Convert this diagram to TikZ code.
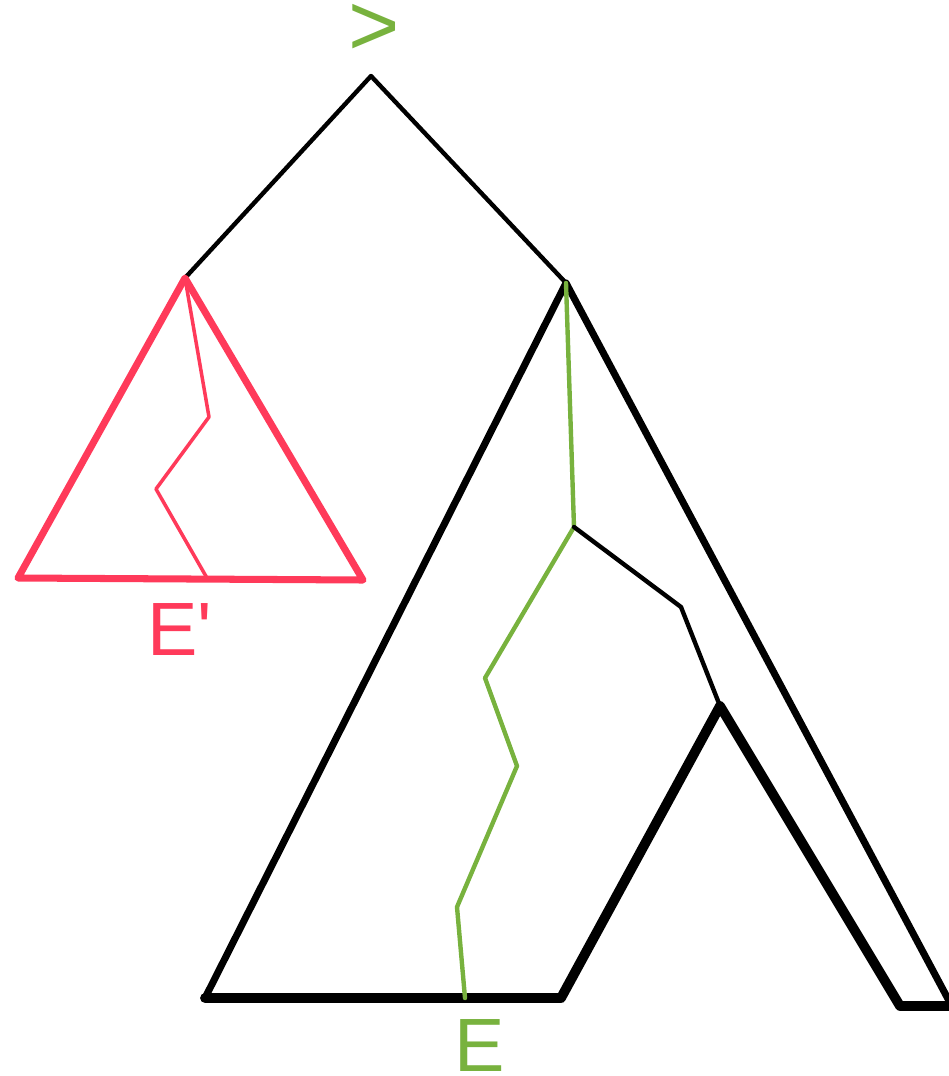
\documentclass[tikz,border=0pt]{standalone}
\usepackage{fontspec}
\setmainfont{Liberation Sans}
\usetikzlibrary{positioning}
\definecolor{treered}{HTML}{FF3A5A}
\definecolor{treegreen}{HTML}{78B23E}

\begin{document}
\begin{tikzpicture}[
  x=0.02cm, y=-0.02cm,
  line join=round, line cap=round,
  lbl/.style={font=\fontsize{43}{43}\selectfont, inner sep=0pt},
  edge/.style={draw=black, line width=2.5pt},
  side/.style={draw=black, line width=4pt},
  heavy/.style={draw=black, line width=5.6pt},
  sub/.style={draw=treered, line width=4pt},
  subpath/.style={draw=treered, line width=2pt},
  route/.style={draw=treegreen, line width=2.5pt}
]
  \useasboundingbox (0,0) rectangle (949,1076);
  \clip (0,0) rectangle (949,1076);

  % tree vertices
  \coordinate (root) at (371,76);
  \coordinate (lc) at (185,278);
  \coordinate (rc) at (566,283);

  % red subtree
  \coordinate (sl) at (18,578);
  \coordinate (sr) at (363,580);
  \coordinate (s1) at (209,417);
  \coordinate (s2) at (156,489);
  \coordinate (s3) at (207,578);

  % big subtree
  \coordinate (bl) at (205,998);
  \coordinate (bm) at (561,998);
  \coordinate (pk) at (720,706);
  \coordinate (br) at (900,1006);
  \coordinate (be) at (960,1006);
  \coordinate (re) at (955,1012);

  % green route
  \coordinate (g1) at (574,527);
  \coordinate (g2) at (485,678);
  \coordinate (g3) at (517,766);
  \coordinate (g4) at (457,907);
  \coordinate (g5) at (465,998);
  \coordinate (k1) at (681,607);

  % labels
  \node[lbl, font=\fontsize{50}{50}\selectfont, text=treegreen] (gt) at (374,30) {>};
  \node[lbl, text=treered] (elp) at (180,630) {E\textquotesingle};
  \node[lbl, text=treegreen] (el) at (480,1045) {E};

  % top edges
  \draw[edge] (lc) -- (root) -- (rc);

  % red triangle and path
  \draw[sub] (lc) -- (sl) -- (sr) -- cycle;
  \draw[subpath] (lc) -- (s1) -- (s2) -- (s3);

  % big triangle
  \draw[side] (rc) -- (bl);
  \draw[side] (rc) -- (re);
  \draw[heavy] (bl) -- (bm) -- (pk) -- (br) -- (be);

  % green route and branch
  \draw[route] (rc) -- (g1) -- (g2) -- (g3) -- (g4) -- (g5);
  \draw[edge] (g1) -- (k1) -- (pk);
\end{tikzpicture}
\end{document}
